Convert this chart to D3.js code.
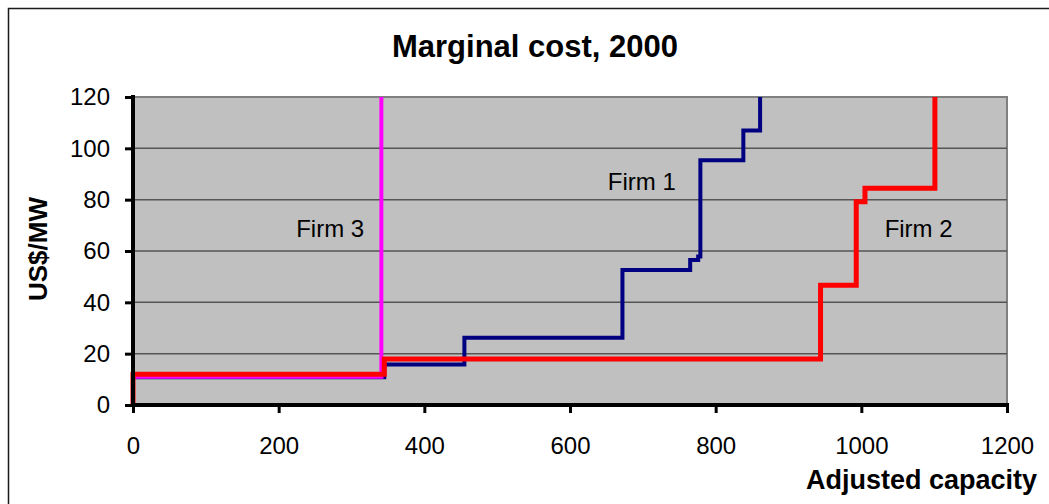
<!DOCTYPE html>
<html>
<head>
<meta charset="utf-8">
<script src="https://cdn.jsdelivr.net/npm/d3@7"></script>
<style>
  html, body { margin: 0; padding: 0; background: #ffffff; }
  svg { display: block; font-family: "Liberation Sans", Arial, sans-serif; }
</style>
</head>
<body>
<svg id="chart" width="1049" height="504"></svg>
<script>
// Cumulative capacity (MW) at which each firm's marginal cost steps, and the cost level from there on
const firm1Capacity = [0, 0, 345, 455, 672, 765, 776, 779, 838, 861];
const firm1Cost     = [0, 10.8, 15.8, 26.2, 52.6, 56.5, 57.9, 95.4, 106.9, 120];

const firm2Capacity = [0, 0, 345, 944, 993, 1005, 1101];
const firm2Cost     = [0, 12, 17.9, 46.7, 79.2, 84.4, 120];

const firm3Capacity = [0, 0, 341];
const firm3Cost     = [0, 11, 120];

const xTicks = [0, 200, 400, 600, 800, 1000, 1200];
const yTicks = [0, 20, 40, 60, 80, 100, 120];

const titleText = "Marginal cost, 2000";
const xTitle = "Adjusted capacity";
const yTitle = "US$/MW";

// Label anchors in data units
const firmLabels = [
  { text: "Firm 1", cap: 652, cost: 83.8 },
  { text: "Firm 2", cap: 1032, cost: 65.4 },
  { text: "Firm 3", cap: 224, cost: 65.5 }
];

const svg = d3.select("#chart");
const plot = { left: 133, top: 97, right: 1007, bottom: 405 };

const x = d3.scaleLinear().domain([0, 1200]).range([plot.left, plot.right]);
const y = d3.scaleLinear().domain([0, 120]).range([plot.bottom, plot.top]);

// Outer chart frame (its right and bottom edges sit past the window)
svg.append("rect")
  .attr("x", 8.5).attr("y", 8.5)
  .attr("width", 1080).attr("height", 520)
  .attr("fill", "#ffffff")
  .attr("stroke", "#1a1a1a").attr("stroke-width", 1.5);

// Plot area
svg.append("rect")
  .attr("x", plot.left).attr("y", plot.top)
  .attr("width", plot.right - plot.left).attr("height", plot.bottom - plot.top)
  .attr("fill", "#c0c0c0")
  .attr("stroke", "#808080").attr("stroke-width", 2);

// Horizontal gridlines
svg.append("g")
  .selectAll("line")
  .data(yTicks.filter(d => d > 0 && d < 120))
  .join("line")
  .attr("x1", plot.left).attr("x2", plot.right)
  .attr("y1", d => y(d)).attr("y2", d => y(d))
  .attr("stroke", "#555555").attr("stroke-width", 1.5);

// Step curves
svg.append("clipPath").attr("id", "plot-clip")
  .append("rect")
  .attr("x", plot.left - 4).attr("y", plot.top)
  .attr("width", plot.right - plot.left + 4).attr("height", plot.bottom - plot.top + 2);

const stepLine = d3.line()
  .x(d => x(d[0]))
  .y(d => y(d[1]))
  .curve(d3.curveStepAfter);

const series = [
  { cap: firm1Capacity, cost: firm1Cost, color: "#000080", width: 4 },
  { cap: firm3Capacity, cost: firm3Cost, color: "#ff00ff", width: 4 },
  { cap: firm2Capacity, cost: firm2Cost, color: "#ff0000", width: 5 }
];

const lines = svg.append("g").attr("clip-path", "url(#plot-clip)");
series.forEach(s => {
  lines.append("path")
    .datum(d3.zip(s.cap, s.cost))
    .attr("d", stepLine)
    .attr("fill", "none")
    .attr("stroke", s.color)
    .attr("stroke-width", s.width)
    .attr("stroke-linejoin", "miter");
});

// Axes
const xAxis = svg.append("g")
  .attr("transform", `translate(0,${plot.bottom})`)
  .call(d3.axisBottom(x).tickValues(xTicks).tickFormat(d3.format("d")).tickSizeInner(8).tickSizeOuter(0).tickPadding(24));
const yAxis = svg.append("g")
  .attr("transform", `translate(${plot.left},0)`)
  .call(d3.axisLeft(y).tickValues(yTicks).tickFormat(d3.format("d")).tickSizeInner(8).tickSizeOuter(0).tickPadding(15));

[xAxis, yAxis].forEach(a => {
  a.select(".domain").attr("stroke", "#000").attr("stroke-width", 4);
  a.selectAll(".tick line").attr("stroke", "#000").attr("stroke-width", 3);
  a.selectAll(".tick text")
    .attr("fill", "#000")
    .attr("font-size", 24)
    .attr("font-family", "Liberation Sans, Arial, sans-serif");
});
xAxis.select(".domain").attr("d", `M${plot.left - 2},0H${plot.right + 2}`);
yAxis.select(".domain").attr("d", `M0,${plot.top - 2}V${plot.bottom + 2}`);

// Firm labels
svg.append("g")
  .selectAll("text")
  .data(firmLabels)
  .join("text")
  .attr("x", d => x(d.cap))
  .attr("y", d => y(d.cost))
  .attr("font-size", 24)
  .attr("fill", "#000")
  .text(d => d.text);

// Titles
svg.append("text")
  .attr("x", 535).attr("y", 57)
  .attr("text-anchor", "middle")
  .attr("font-size", 31).attr("font-weight", "bold")
  .text(titleText);

svg.append("text")
  .attr("x", 1037).attr("y", 489)
  .attr("text-anchor", "end")
  .attr("font-size", 27).attr("font-weight", "bold")
  .text(xTitle);

svg.append("text")
  .attr("transform", "translate(47,249) rotate(-90)")
  .attr("text-anchor", "middle")
  .attr("font-size", 26).attr("font-weight", "bold")
  .text(yTitle);
</script>
</body>
</html>
